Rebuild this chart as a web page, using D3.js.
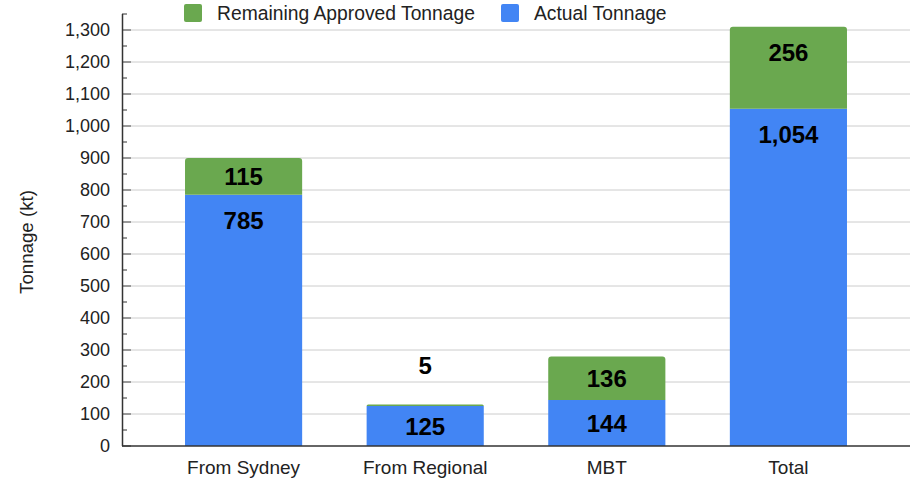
<!DOCTYPE html>
<html>
<head>
<meta charset="utf-8">
<script src="https://cdn.jsdelivr.net/npm/d3@7"></script>
<style>
  body { margin: 0; background: #fff; }
  text { font-family: "Liberation Sans", Arial, sans-serif; }
</style>
</head>
<body>
<div id="chart"></div>
<script>
/* stacked tonnage bar chart */

const categories = ['From Sydney', 'From Regional', 'MBT', 'Total'];
const actualTonnage = [785, 125, 144, 1054];
const remainingTonnage = [115, 5, 136, 256];
const seriesNames = ['Remaining Approved Tonnage', 'Actual Tonnage'];
const yTicks = [0, 100, 200, 300, 400, 500, 600, 700, 800, 900, 1000, 1100, 1200, 1300];

const width = 910, height = 478;
const colors = { actual: '#4285f4', remaining: '#6aa84f' };

const xScale = d3.scaleBand()
  .domain(categories)
  .range([122, 910])
  .paddingInner(0.355)
  .paddingOuter(0.347);

const yScale = d3.scaleLinear().domain([0, 1350]).range([446, 14]);

const svg = d3.select('#chart')
  .append('svg')
  .attr('width', width)
  .attr('height', height);

// gridlines
svg.append('g')
  .selectAll('line')
  .data(yTicks.slice(1))
  .join('line')
  .attr('x1', 131)
  .attr('x2', width)
  .attr('y1', d => yScale(d))
  .attr('y2', d => yScale(d))
  .attr('stroke', '#cccccc')
  .attr('stroke-width', 1);

// stacked data
const rows = categories.map((c, i) => ({
  cat: c,
  actual: actualTonnage[i],
  remaining: remainingTonnage[i]
}));

const bars = svg.append('g');

// blue bottom segment
bars.selectAll('rect.actual')
  .data(rows)
  .join('rect')
  .attr('class', 'actual')
  .attr('x', d => xScale(d.cat))
  .attr('width', xScale.bandwidth())
  .attr('y', d => yScale(d.actual))
  .attr('height', d => yScale(0) - yScale(d.actual))
  .attr('fill', colors.actual);

// green top segment, rounded top corners
function topRounded(x, y, w, h, r) {
  r = Math.min(r, h);
  return `M${x},${y + h}V${y + r}Q${x},${y} ${x + r},${y}H${x + w - r}Q${x + w},${y} ${x + w},${y + r}V${y + h}Z`;
}

bars.selectAll('path.remaining')
  .data(rows)
  .join('path')
  .attr('class', 'remaining')
  .attr('fill', colors.remaining)
  .attr('d', d => {
    const y0 = yScale(d.actual);
    const y1 = yScale(d.actual + d.remaining);
    return topRounded(xScale(d.cat), y1, xScale.bandwidth(), y0 - y1, 3);
  });

// value labels: near the top of each segment, or above it if too thin
const fmt = d3.format(',');
const labels = svg.append('g')
  .attr('text-anchor', 'middle')
  .style('font-family', 'Roboto, sans-serif')
  .style('font-weight', 'bold')
  .style('font-size', '24px')
  .attr('fill', '#000');

function labelY(top, h) {
  if (h < 30) return top - 39;
  return top + Math.min(25.5, h / 2);
}

rows.forEach(d => {
  const cx = xScale(d.cat) + xScale.bandwidth() / 2;
  const blueTop = yScale(d.actual);
  const greenTop = yScale(d.actual + d.remaining);
  labels.append('text')
    .attr('x', cx)
    .attr('y', labelY(blueTop, yScale(0) - blueTop))
    .attr('dy', '0.36em')
    .text(fmt(d.actual));
  labels.append('text')
    .attr('x', cx)
    .attr('y', labelY(greenTop, blueTop - greenTop))
    .attr('dy', '0.36em')
    .text(fmt(d.remaining));
});

// y axis
const yAxis = svg.append('g');
yAxis.append('line')
  .attr('x1', 122.5).attr('x2', 122.5)
  .attr('y1', yScale(1350)).attr('y2', yScale(0))
  .attr('stroke', '#333').attr('stroke-width', 1.5);

yAxis.selectAll('line.minor')
  .data(d3.range(50, 1400, 100))
  .join('line')
  .attr('class', 'minor')
  .attr('x1', 122).attr('x2', 127)
  .attr('y1', d => yScale(d)).attr('y2', d => yScale(d))
  .attr('stroke', '#333');

yAxis.selectAll('line.major')
  .data(yTicks)
  .join('line')
  .attr('class', 'major')
  .attr('x1', 122).attr('x2', 131)
  .attr('y1', d => yScale(d)).attr('y2', d => yScale(d))
  .attr('stroke', '#333');

yAxis.selectAll('text')
  .data(yTicks)
  .join('text')
  .attr('x', 110)
  .attr('y', d => yScale(d))
  .attr('dy', '0.35em')
  .attr('text-anchor', 'end')
  .style('font-size', '18px')
  .attr('fill', '#222')
  .text(d => fmt(d));

// x axis
svg.append('line')
  .attr('x1', 122).attr('x2', width)
  .attr('y1', yScale(0)).attr('y2', yScale(0))
  .attr('stroke', '#333').attr('stroke-width', 1.5);

svg.append('g')
  .selectAll('text')
  .data(categories)
  .join('text')
  .attr('x', d => xScale(d) + xScale.bandwidth() / 2)
  .attr('y', 467)
  .attr('dy', '0.35em')
  .attr('text-anchor', 'middle')
  .style('font-size', '19px')
  .attr('fill', '#222')
  .text(d => d);

// y axis title
svg.append('text')
  .attr('transform', `translate(26,${242}) rotate(-90)`)
  .attr('text-anchor', 'middle')
  .attr('dy', '0.35em')
  .style('font-size', '18.7px')
  .attr('fill', '#222')
  .text('Tonnage (kt)');

// legend
const legendItems = [
  { name: seriesNames[0], color: colors.remaining, x: 184 },
  { name: seriesNames[1], color: colors.actual, x: 501 }
];
const legend = svg.append('g');
legendItems.forEach(it => {
  legend.append('rect')
    .attr('x', it.x).attr('y', 4)
    .attr('width', 18).attr('height', 18)
    .attr('rx', 2)
    .attr('fill', it.color);
  legend.append('text')
    .attr('x', it.x + 33)
    .attr('y', 13.5)
    .attr('dy', '0.35em')
    .style('font-size', '19.3px')
    .attr('fill', '#222')
    .text(it.name);
});
</script>
</body>
</html>
